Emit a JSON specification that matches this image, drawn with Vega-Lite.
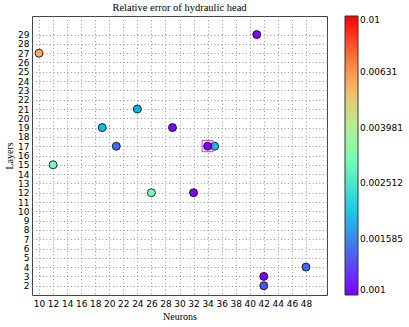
{
  "$schema": "https://vega.github.io/schema/vega-lite/v6.json",
  "width": 295,
  "height": 279,
  "autosize": {"type": "none"},
  "padding": {"left": 32, "top": 16, "right": 82, "bottom": 32},
  "background": "white",
  "title": {"text": "Relative error of hydraulic head", "font": "Liberation Serif", "fontSize": 10.5, "fontWeight": "normal", "color": "black", "offset": 3, "anchor": "middle"},
  "data": {"values": [
    {"neurons": 10, "layers": 27, "error": 0.0058, "best": false},
    {"neurons": 12, "layers": 15, "error": 0.00295, "best": false},
    {"neurons": 19, "layers": 19, "error": 0.00186, "best": false},
    {"neurons": 21, "layers": 17, "error": 0.00141, "best": false},
    {"neurons": 24, "layers": 21, "error": 0.0018, "best": false},
    {"neurons": 26, "layers": 12, "error": 0.00305, "best": false},
    {"neurons": 29, "layers": 19, "error": 0.00103, "best": false},
    {"neurons": 32, "layers": 12, "error": 0.00102, "best": false},
    {"neurons": 35, "layers": 17, "error": 0.0019, "best": false},
    {"neurons": 34, "layers": 17, "error": 0.001, "best": true},
    {"neurons": 41, "layers": 29, "error": 0.00103, "best": false},
    {"neurons": 42, "layers": 3, "error": 0.00101, "best": false},
    {"neurons": 42, "layers": 2, "error": 0.00126, "best": false},
    {"neurons": 48, "layers": 4, "error": 0.00138, "best": false}
  ]},
  "encoding": {
    "x": {"field": "neurons", "type": "quantitative", "title": "Neurons",
      "scale": {"domain": [9, 51], "nice": false, "zero": false},
      "axis": {"values": [10,12,14,16,18,20,22,24,26,28,30,32,34,36,38,40,42,44,46,48], "labelPadding": 4, "titlePadding": 3}},
    "y": {"field": "layers", "type": "quantitative", "title": "Layers",
      "scale": {"domain": [1, 31], "nice": false, "zero": false},
      "axis": {"values": [2,3,4,5,6,7,8,9,10,11,12,13,14,15,16,17,18,19,20,21,22,23,24,25,26,27,28,29], "labelPadding": 3, "titlePadding": 3}}
  },
  "layer": [
    {
      "mark": {"type": "point", "shape": "circle", "filled": true, "size": 64, "stroke": "black", "strokeWidth": 0.8, "opacity": 1},
      "encoding": {
        "color": {"field": "error", "type": "quantitative",
          "scale": {"type": "log",
            "domain": [0.001, 0.0013335, 0.0017783, 0.0023714, 0.0031623, 0.004217, 0.0056234, 0.0074989, 0.01],
            "range": ["#8000ff", "#4062fa", "#00b4eb", "#40ebd4", "#80ffb4", "#c0eb8e", "#ffb462", "#ff6232", "#ff0000"],
            "interpolate": "rgb"},
          "legend": {"title": null, "values": [0.001, 0.001585, 0.002512, 0.003981, 0.00631, 0.01], "format": ".4~r",
            "encode": {"labels": {"update": {"baseline": {"value": "middle"}}}}}}
      }
    },
    {
      "transform": [{"filter": "datum.best"}],
      "mark": {"type": "point", "shape": "square", "filled": false, "size": 121, "stroke": "#cc33cc", "strokeWidth": 1, "opacity": 1}
    }
  ],
  "config": {
    "view": {"stroke": "#444", "strokeWidth": 1},
    "axis": {
      "domain": false, "ticks": false, "grid": true, "gridColor": "#999", "gridDash": [1, 2.5], "gridWidth": 1, "gridOpacity": 1,
      "labelFont": "DejaVu Sans", "labelFontSize": 9, "labelColor": "black", "labelOverlap": false,
      "titleFont": "Liberation Serif", "titleFontSize": 10, "titleFontWeight": "normal", "titleColor": "black"
    },
    "legend": {
      "orient": "right", "offset": 18, "padding": 0, "direction": "vertical",
      "gradientLength": 279, "gradientThickness": 13, "gradientStrokeColor": "#333", "gradientStrokeWidth": 1,
      "labelFont": "DejaVu Sans", "labelFontSize": 9, "labelColor": "black", "labelOffset": 4, "labelOverlap": false
    }
  }
}
